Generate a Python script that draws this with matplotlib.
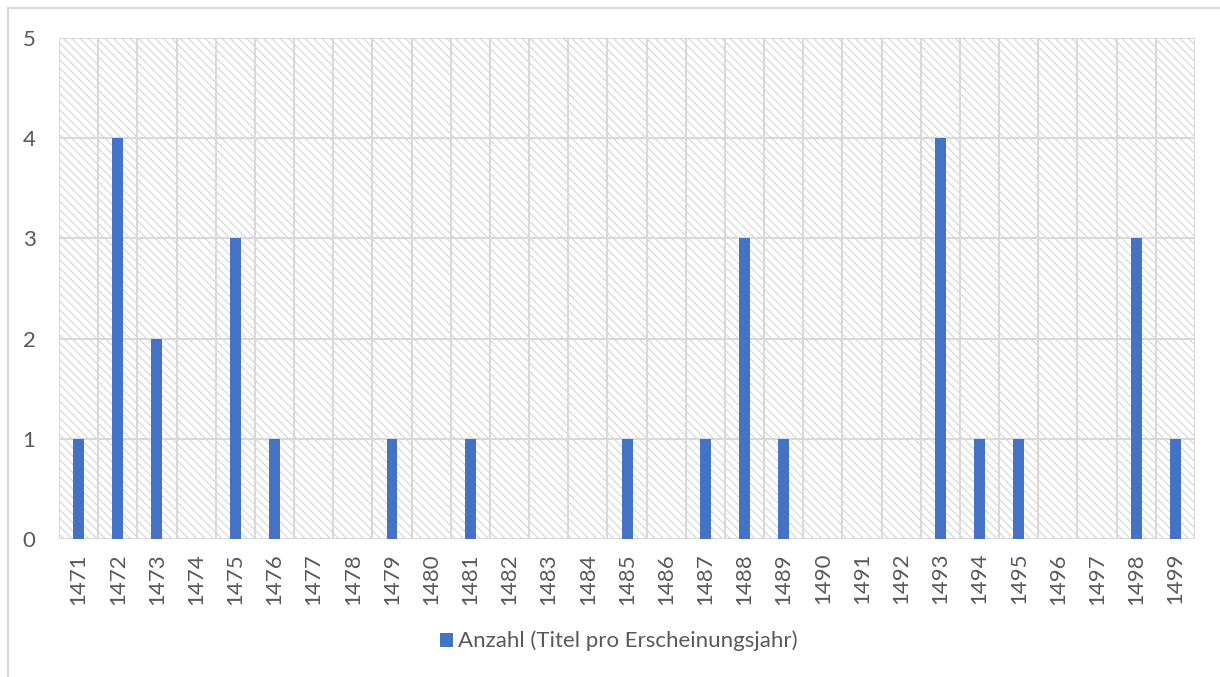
import matplotlib
matplotlib.use("Agg")
import matplotlib.pyplot as plt
from matplotlib.patches import Rectangle, Patch

years = [str(y) for y in range(1471, 1500)]
counts = [1, 4, 2, 0, 3, 1, 0, 0, 1, 0, 1, 0, 0, 0, 1, 0, 1, 3, 1, 0, 0, 0, 4, 1, 1, 0, 0, 3, 1]
series_name = "Anzahl (Titel pro Erscheinungsjahr)"
yticks = [0, 1, 2, 3, 4, 5]

plt.rcParams['font.family'] = ['Lato', 'DejaVu Sans']
plt.rcParams['hatch.linewidth'] = 1.0
plt.rcParams['hatch.color'] = '#dcdcdc'

fig = plt.figure(figsize=(12.2, 6.77), dpi=100)
ax = fig.add_axes([0.0484, 0.2038, 0.9795 - 0.0484, 0.9439 - 0.2038])

# outer border (extends past right and bottom edges)
fig.patches.append(Rectangle((0.0065, -0.05), 1.05, 1.038, transform=fig.transFigure,
                             fill=False, edgecolor='#d9d9d9', linewidth=1.5))

n = len(years)
x = list(range(n))
ax.set_xlim(-0.5, n - 0.5)
ax.set_ylim(0, 5)

# hatched background
bg = Rectangle((-0.5, 0), n, 5, facecolor='white', edgecolor='#dcdcdc',
               hatch='\\\\\\\\', linewidth=0, zorder=0)
ax.add_patch(bg)

# grid lines
for yv in yticks:
    ax.axhline(yv, color='#d9d9d9', linewidth=1.5, zorder=1)
for i in range(n + 1):
    ax.axvline(i - 0.5, color='#d9d9d9', linewidth=1.5, zorder=1)

ax.bar(x, counts, width=0.28, color='#4472C4', zorder=3)

for s in ax.spines.values():
    s.set_visible(False)

ax.set_xticks(x)
ax.set_xticklabels(years, rotation=90, fontsize=16, color='#595959')
ax.set_yticks(yticks)
ax.set_yticklabels([str(v) for v in yticks], fontsize=16, color='#595959')
ax.tick_params(axis='both', length=0)
ax.tick_params(axis='x', pad=10)
ax.tick_params(axis='y', pad=17)

fig.legend(handles=[Patch(facecolor='#4472C4', edgecolor='none')], labels=[series_name],
           loc='center', bbox_to_anchor=(0.507, 0.053), frameon=False, fontsize=16,
           handlelength=0.6, handleheight=0.6, handletextpad=0.2, labelcolor='#595959')

fig.savefig('out.png', dpi=100)
